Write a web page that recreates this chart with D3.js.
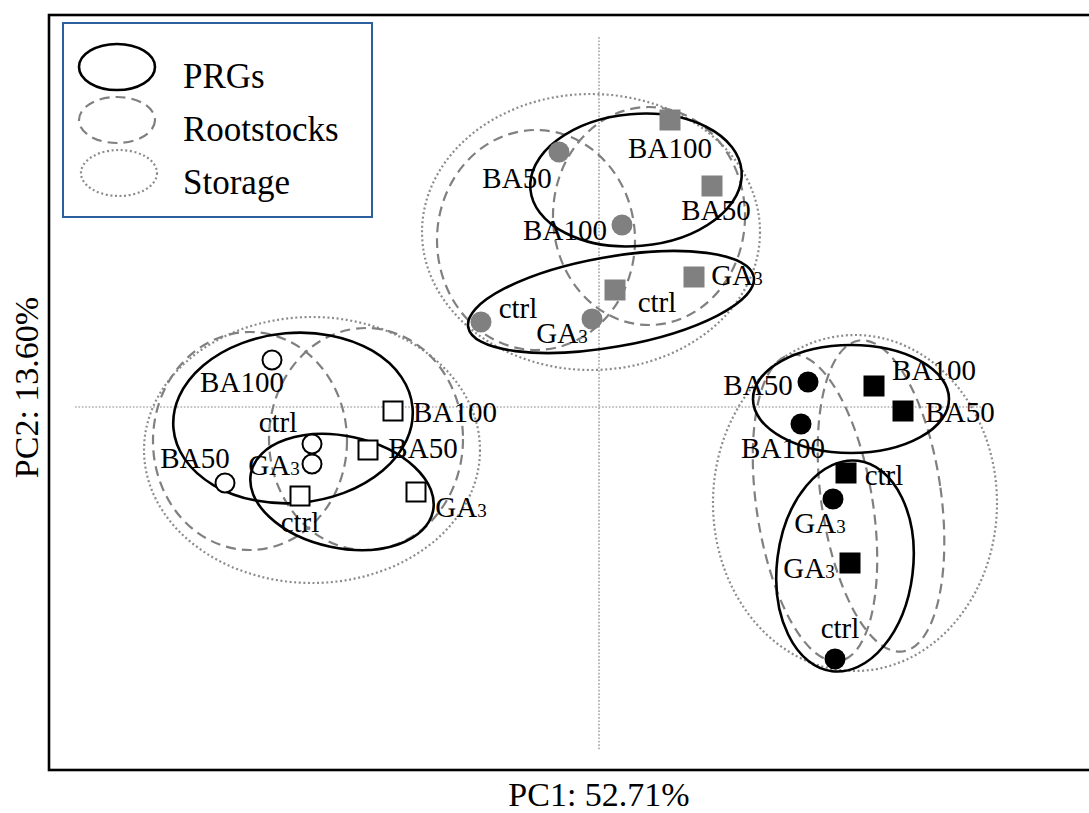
<!DOCTYPE html>
<html>
<head>
<meta charset="utf-8">
<script src="https://cdn.jsdelivr.net/npm/d3@7"></script>
<style>
  html, body { margin: 0; padding: 0; background: #fff; }
  svg { display: block; }
  text { font-family: "Liberation Serif", "Times New Roman", serif; fill: #000; }
</style>
</head>
<body>
<svg id="chart" width="1089" height="813"></svg>
<script>
// PCA scores (PC1, PC2) for each sample
const pointGroup = [
  "grayCircle","grayCircle","grayCircle","grayCircle",
  "graySquare","graySquare","graySquare","graySquare",
  "whiteCircle","whiteCircle","whiteCircle","whiteCircle",
  "whiteSquare","whiteSquare","whiteSquare","whiteSquare",
  "blackCircle","blackCircle","blackCircle","blackCircle",
  "blackSquare","blackSquare","blackSquare","blackSquare"
];
const pointLabel = [
  "BA50","BA100","ctrl","GA3",
  "BA100","BA50","GA3","ctrl",
  "BA100","ctrl","GA3","BA50",
  "BA100","BA50","ctrl","GA3",
  "BA50","BA100","GA3","ctrl",
  "BA100","BA50","ctrl","GA3"
];
const pc1 = [
  -0.40, 0.23, -1.18, -0.07,
   0.71, 1.13,  0.95,  0.16,
  -3.27, -2.87, -2.87, -3.74,
  -2.06, -2.31, -2.99, -1.83,
   2.09, 2.02, 2.34, 2.36,
   2.75, 3.04, 2.47, 2.51
];
const pc2 = [
   2.55, 1.82, 0.85, 0.88,
   2.87, 2.21, 1.30, 1.17,
   0.47, -0.37, -0.57, -0.76,
  -0.04, -0.43, -0.89, -0.85,
   0.25, -0.17, -0.92, -2.52,
   0.21, -0.04, -0.66, -1.56
];

// Grouping ellipses (centre, semi-axes in PC units, tilt in degrees)
const ellipseKind = [
  "Storage","Rootstocks","Rootstocks","PRGs","PRGs",
  "Storage","Rootstocks","Rootstocks","PRGs","PRGs",
  "Storage","Rootstocks","Rootstocks","PRGs","PRGs"
];
const ellipseCx = [-0.08, -0.63, 0.50, 0.37, 0.12,  -2.87, -3.49, -2.33, -3.06, -2.57,  2.56, 2.16, 2.82, 2.52, 2.46];
const ellipseCy = [ 1.75,  1.67, 1.91, 2.27, 1.05,  -0.43, -0.34, -0.32, -0.11, -0.85, -0.96, -1.01, -0.89, 0.08, -1.59];
const ellipseRx = [ 1.69,  0.99, 0.96, 1.06, 1.45,   1.68,  0.97,  0.97,  1.20,  0.93,  1.42, 0.58, 0.60, 0.98, 0.68];
const ellipseRy = [ 1.38,  1.10, 1.09, 0.66, 0.45,   1.33,  1.09,  1.11,  0.85,  0.56,  1.68, 1.55, 1.57, 0.54, 1.06];
const ellipseAngle = [0, 0, 0, -5, -10,  0, 0, 0, -5, 12,  0, -9, -8, 0, 7];

const legendItems = ["PRGs", "Rootstocks", "Storage"];
const xTitle = "PC1: 52.71%";
const yTitle = "PC2: 13.60%";

// ---- layout ----
const svg = d3.select("#chart");
const plot = { left: 49, top: 15, right: 1149, bottom: 770 };

const x = d3.scaleLinear().domain([-5.5, 5.5]).range([plot.left, plot.right]);
const y = d3.scaleLinear().domain([-3.63, 3.92]).range([plot.bottom, plot.top]);
const unit = x(1) - x(0);

const strokeStyle = {
  PRGs:       { color: "#000", width: 2.6, dash: null },
  Rootstocks: { color: "#808080", width: 2.2, dash: "10,6" },
  Storage:    { color: "#8c8c8c", width: 2.2, dash: "2,2.6" }
};
const markerStyle = {
  grayCircle:  { shape: "circle", fill: "#808080", stroke: "none" },
  graySquare:  { shape: "square", fill: "#808080", stroke: "none" },
  whiteCircle: { shape: "circle", fill: "#fff", stroke: "#000" },
  whiteSquare: { shape: "square", fill: "#fff", stroke: "#000" },
  blackCircle: { shape: "circle", fill: "#000", stroke: "none" },
  blackSquare: { shape: "square", fill: "#000", stroke: "none" }
};
// label anchor offsets from each marker, in pixels
const labelDx = [-42, -57, 37, -30,  0, 4, 43, 42,  -30, -34, -38, -30,  62, 55, 0, 45,  -50, -18, -13, 5,  60, 57, 38, -41];
const labelDy = [ 36,  15, -4,  24, 38, 34,  8, 22,   32, -12,  11, -15,  11,  8, 36, 25,   13,  34,  34, -21, -6, 11, 12,  15];

// origin reference lines
svg.append("line")
  .attr("x1", x(0)).attr("x2", x(0))
  .attr("y1", y(3.70)).attr("y2", y(-3.43))
  .attr("stroke", "#8a8a8a").attr("stroke-width", 1.2).attr("stroke-dasharray", "1.7,1.7");
svg.append("line")
  .attr("x1", x(-5.24)).attr("x2", x(3.86))
  .attr("y1", y(0)).attr("y2", y(0))
  .attr("stroke", "#8a8a8a").attr("stroke-width", 1.2).attr("stroke-dasharray", "1.7,1.7");

// grouping ellipses
const ellipses = ellipseKind.map((k, i) => ({
  kind: k, cx: ellipseCx[i], cy: ellipseCy[i], rx: ellipseRx[i], ry: ellipseRy[i], a: ellipseAngle[i]
}));
const order = { Storage: 0, Rootstocks: 1, PRGs: 2 };
ellipses.sort((p, q) => order[p.kind] - order[q.kind]);

svg.append("g").selectAll("ellipse").data(ellipses).join("ellipse")
  .attr("transform", d => `translate(${x(d.cx)},${y(d.cy)}) rotate(${d.a})`)
  .attr("rx", d => d.rx * unit)
  .attr("ry", d => d.ry * unit)
  .attr("fill", "none")
  .attr("stroke", d => strokeStyle[d.kind].color)
  .attr("stroke-width", d => strokeStyle[d.kind].width)
  .attr("stroke-dasharray", d => strokeStyle[d.kind].dash);

// sample markers
const points = pointGroup.map((g, i) => ({ g, label: pointLabel[i], px: x(pc1[i]), py: y(pc2[i]), dx: labelDx[i], dy: labelDy[i] }));
const markers = svg.append("g");
points.forEach(d => {
  const s = markerStyle[d.g];
  if (s.shape === "circle") {
    markers.append("circle")
      .attr("cx", d.px).attr("cy", d.py)
      .attr("r", s.stroke === "none" ? 10.5 : 9.5)
      .attr("fill", s.fill).attr("stroke", s.stroke).attr("stroke-width", 2);
  } else {
    const side = s.stroke === "none" ? 21 : 19;
    markers.append("rect")
      .attr("x", d.px - side / 2).attr("y", d.py - side / 2)
      .attr("width", side).attr("height", side)
      .attr("fill", s.fill).attr("stroke", s.stroke).attr("stroke-width", 2);
  }
});

// treatment labels (GA3 with a small 3)
const labelG = svg.append("g");
points.forEach(d => {
  const t = labelG.append("text")
    .attr("x", d.px + d.dx).attr("y", d.py + d.dy)
    .attr("text-anchor", "middle")
    .style("font-size", "29px");
  const m = d.label.match(/^(GA)(3)$/);
  if (m) {
    t.append("tspan").text(m[1]);
    t.append("tspan").style("font-size", "19px").text(m[2]);
  } else {
    t.text(d.label);
  }
});

// plot frame
svg.append("rect")
  .attr("x", plot.left).attr("y", plot.top)
  .attr("width", plot.right - plot.left).attr("height", plot.bottom - plot.top)
  .attr("fill", "none").attr("stroke", "#000").attr("stroke-width", 2.6);

// legend
const legend = svg.append("g");
legend.append("rect")
  .attr("x", 63).attr("y", 23).attr("width", 309).attr("height", 194)
  .attr("fill", "#fff").attr("stroke", "#2b5f9e").attr("stroke-width", 2);
legendItems.forEach((k, i) => {
  const cy = 67 + i * 53;
  legend.append("ellipse")
    .attr("cx", 117 + (k === "Storage" ? 2 : 0)).attr("cy", cy)
    .attr("rx", 38).attr("ry", 23)
    .attr("fill", "none")
    .attr("stroke", strokeStyle[k].color)
    .attr("stroke-width", strokeStyle[k].width)
    .attr("stroke-dasharray", strokeStyle[k].dash);
  legend.append("text")
    .attr("x", 183).attr("y", cy + 21)
    .style("font-size", "35px")
    .text(k);
});

// axis titles
svg.append("text")
  .attr("x", x(0)).attr("y", 806)
  .attr("text-anchor", "middle")
  .style("font-size", "34px")
  .text(xTitle);
svg.append("text")
  .attr("transform", `translate(38,${(plot.top + plot.bottom) / 2 - 5}) rotate(-90)`)
  .attr("text-anchor", "middle")
  .style("font-size", "34px")
  .text(yTitle);
</script>
</body>
</html>
